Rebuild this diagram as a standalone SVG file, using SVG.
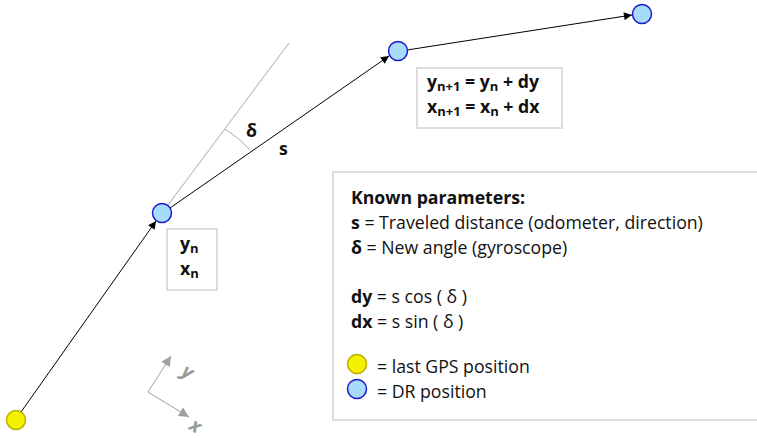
<svg xmlns="http://www.w3.org/2000/svg" width="757" height="438" viewBox="0 0 757 438">
<defs>
<marker id="ah" viewBox="0 0 10 10" refX="10" refY="5" markerWidth="11" markerHeight="8" markerUnits="userSpaceOnUse" orient="auto"><path d="M0,0 L10,5 L0,10 z" fill="#000"/></marker>
<marker id="ahg" viewBox="0 0 10 10" refX="10" refY="5" markerWidth="13" markerHeight="10" markerUnits="userSpaceOnUse" orient="auto"><path d="M0,0 L10,5 L0,10 z" fill="#a0a0a0"/></marker>
</defs>
<style>
text{font-family:"Open Sans","Noto Sans",sans-serif;font-size:17.7px;fill:#111}
.b{font-weight:bold}
.box{fill:#fff;stroke:#ddd;stroke-width:2}
.dr{fill:#a6dcfa;stroke:#1a1acc;stroke-width:1.5}
.gps{fill:#f5f000;stroke:#b8b000;stroke-width:1.5}
.c{stroke:#000;stroke-width:1;fill:none}
.sub{font-size:13px}
.ax{fill:#999;font-style:italic;font-weight:bold;font-size:19px}
</style>
<rect width="757" height="438" fill="#fff"/>
<g id="guides">
<line x1="162" y1="213" x2="289" y2="43" stroke="#aaa" stroke-width="1"/>
<path d="M225,129 A106,106 0 0 1 250,150" stroke="#aaa" fill="none" stroke-width="1"/>
<text x="246" y="137" class="b">δ</text>
<text x="279" y="155" class="b">s</text>
</g>
<g id="connectors">
<line class="c" x1="21" y1="412" x2="156" y2="221" marker-end="url(#ah)"/>
<line class="c" x1="170" y1="208" x2="389" y2="56" marker-end="url(#ah)"/>
<line class="c" x1="407" y1="50" x2="632" y2="15" marker-end="url(#ah)"/>
</g>
<g id="axes">
<line x1="148" y1="392" x2="171" y2="356" stroke="#a0a0a0" stroke-width="1" marker-end="url(#ahg)"/>
<line x1="148" y1="392" x2="189" y2="417" stroke="#a0a0a0" stroke-width="1" marker-end="url(#ahg)"/>
<text x="187" y="378" text-anchor="middle" transform="rotate(32 187 373)" class="ax">y</text>
<text x="195" y="432" text-anchor="middle" transform="rotate(32 195 427)" class="ax">x</text>
</g>
<g id="node-gps"><circle class="gps" cx="16" cy="420" r="9.5"/></g>
<g id="node-n"><circle class="dr" cx="162" cy="213" r="9.5"/></g>
<g id="node-n1"><circle class="dr" cx="398" cy="51" r="9.5"/></g>
<g id="node-n2"><circle class="dr" cx="642" cy="14" r="9.5"/></g>
<g id="box-n">
<rect class="box" x="167" y="229" width="50" height="61"/>
<text x="180" y="250" class="b">y<tspan class="sub" dy="3">n</tspan></text>
<text x="180" y="275" class="b">x<tspan class="sub" dy="3">n</tspan></text>
</g>
<g id="box-n1">
<rect class="box" x="417" y="68" width="145" height="60"/>
<text x="427" y="88" class="b">y<tspan class="sub" dy="3">n+1</tspan><tspan dy="-3"> = y</tspan><tspan class="sub" dy="3">n</tspan><tspan dy="-3"> + dy</tspan></text>
<text x="427" y="113" class="b">x<tspan class="sub" dy="3">n+1</tspan><tspan dy="-3"> = x</tspan><tspan class="sub" dy="3">n</tspan><tspan dy="-3"> + dx</tspan></text>
</g>
<g id="legend">
<rect class="box" x="333" y="172" width="430" height="248"/>
<text x="351" y="204" class="b">Known parameters:</text>
<text x="351" y="229"><tspan class="b">s</tspan> = Traveled distance (odometer, direction)</text>
<text x="351" y="254"><tspan class="b">δ</tspan> = New angle (gyroscope)</text>
<text x="351" y="303"><tspan class="b">dy</tspan> = s cos ( δ )</text>
<text x="351" y="328"><tspan class="b">dx</tspan> = s sin ( δ )</text>
<circle class="gps" cx="357" cy="364" r="9.5"/>
<text x="377" y="373">= last GPS position</text>
<circle class="dr" cx="357" cy="389" r="9.5"/>
<text x="377" y="398">= DR position</text>
</g>
</svg>
